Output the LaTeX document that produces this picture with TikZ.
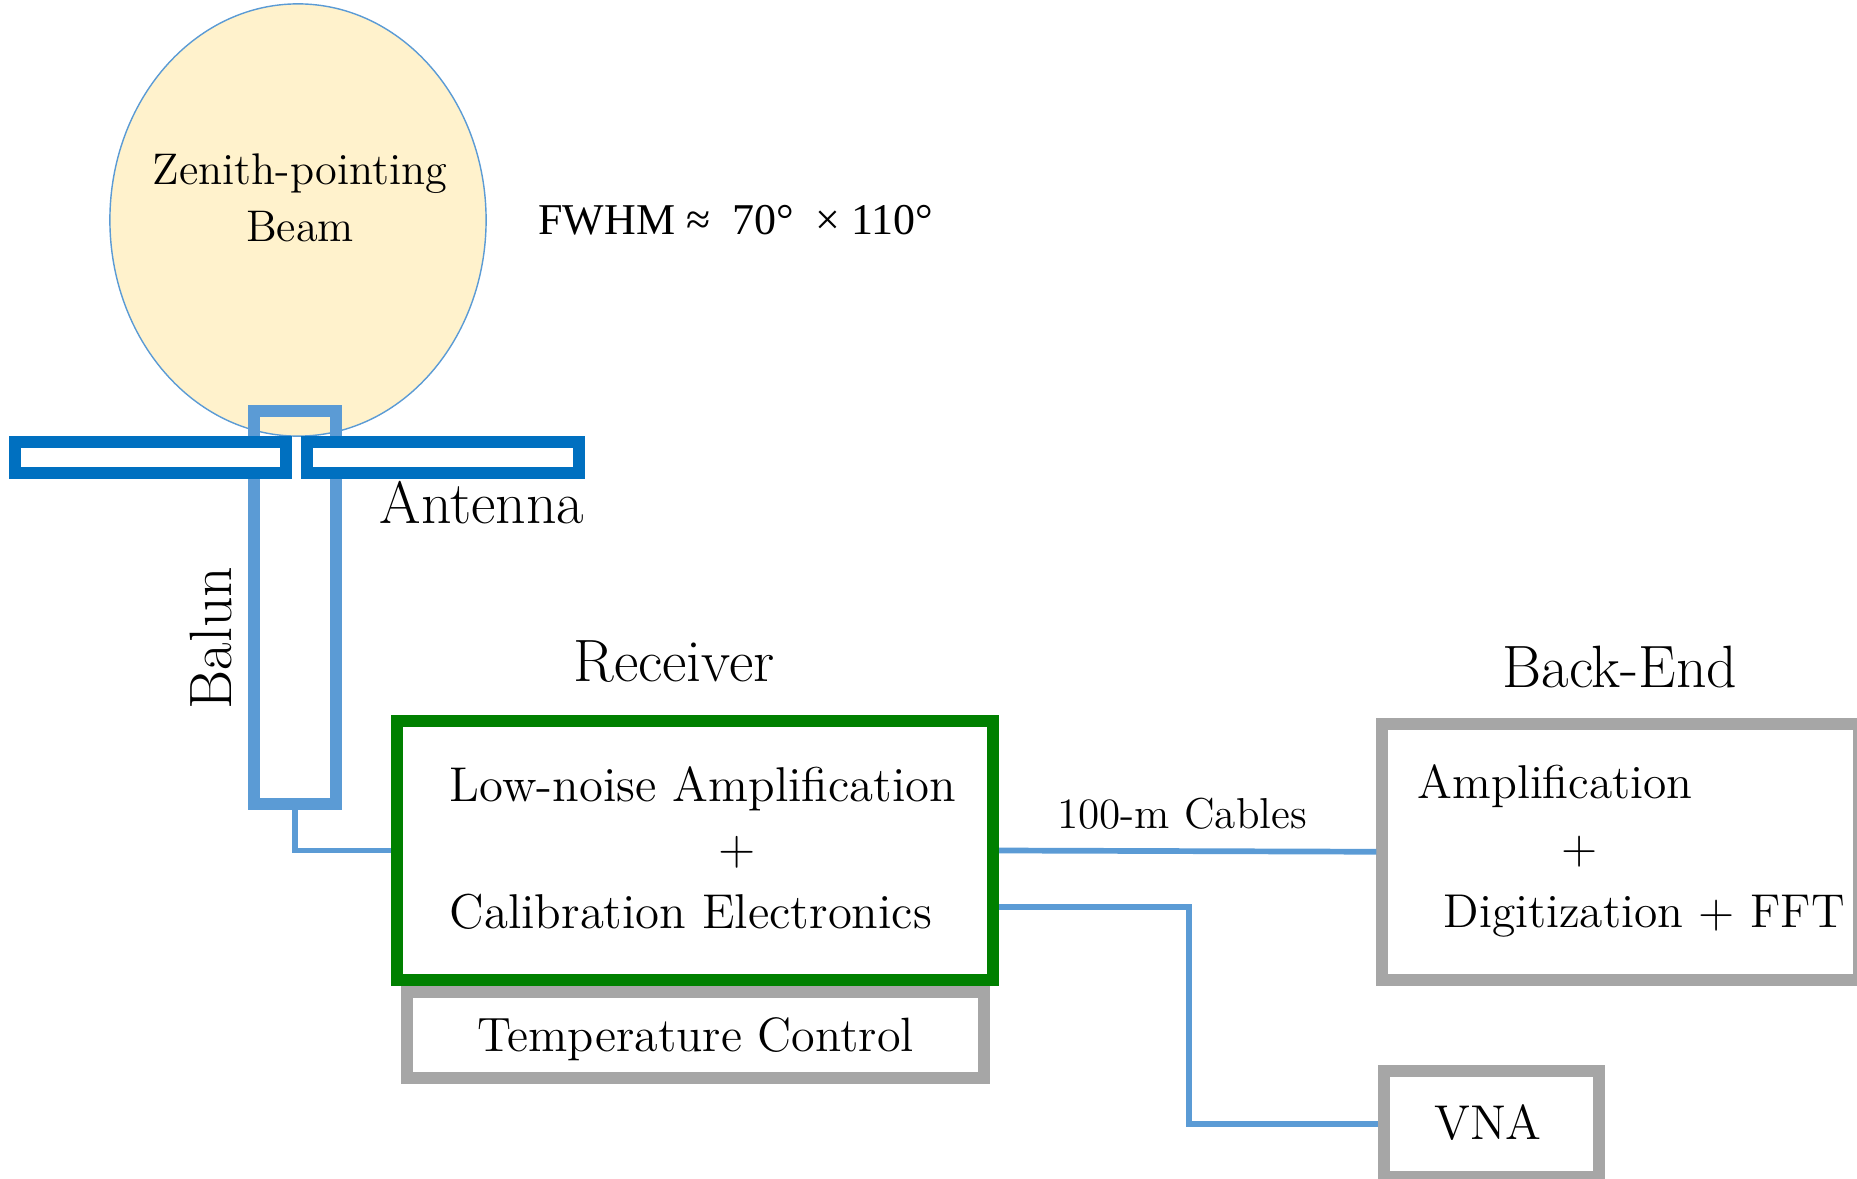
\documentclass[tikz,border=0pt]{standalone}
\usepackage{fontspec}
\newfontfamily\fwhmfont{Liberation Serif}
\usepackage{tikz}
\usetikzlibrary{positioning,shapes.geometric}
\definecolor{dipoleblue}{HTML}{0070C0}
\definecolor{balunblue}{HTML}{5B9BD5}
\definecolor{rxgreen}{HTML}{008000}
\definecolor{boxgray}{HTML}{A6A6A6}
\definecolor{beamfill}{HTML}{FFF2CC}

\begin{document}
\begin{tikzpicture}[x=0.01cm,y=-0.01cm,
  every node/.style={inner sep=0pt},
  arm/.style={draw=dipoleblue,fill=white,line width=0.12cm,minimum width=2.71cm,minimum height=0.31cm},
  graybox/.style={draw=boxgray,line width=0.12cm},
  cable/.style={draw=balunblue,line width=0.057cm},
  head/.style={font=\fontsize{17}{20}\selectfont},
  boxtxt/.style={font=\fontsize{13.9}{18.1}\selectfont,align=left}
]
  \useasboundingbox (0,0) rectangle (1857,1179);
  \clip (0,0) rectangle (1857,1179);

  % antenna and beam
  \node[ellipse,draw=balunblue,fill=beamfill,line width=0.4pt,minimum width=3.76cm,minimum height=4.32cm] (beam) at (298,220) {};
  \node[font=\fontsize{12.6}{16.2}\selectfont,align=center] (beamtxt) at (300,198) {Zenith-pointing\\Beam};
  \node[font=\fwhmfont\fontsize{12.5}{15}\selectfont] (fwhm) at (736,220) {FWHM ≈\ \ 70°\ \ × 110°};
  \node[draw=balunblue,line width=0.12cm,minimum width=0.815cm,minimum height=3.93cm] (balun) at (294.75,607.5) {};
  \node[arm] (armL) at (150.5,457.5) {};
  \node[arm] (armR) at (443,457.5) {};
  \node[head,rotate=90] (baluntxt) at (211,638) {Balun};
  \node[head] (anttxt) at (482,503) {Antenna};

  % receiver
  \node[draw=rxgreen,line width=0.12cm,minimum width=5.96cm,minimum height=2.59cm] (rx) at (695,850.5) {};
  \node[boxtxt,anchor=west] (rxtxt) at (449,848) {Low-noise Amplification\\\hspace*{76.3pt}+\\Calibration Electronics};
  \node[head] (rxhead) at (674,662) {Receiver};
  \node[graybox,minimum width=5.76cm,minimum height=0.86cm,text depth=0pt,font=\fontsize{13.7}{16}\selectfont] (tc) at (695.5,1035) {Temperature Control};

  % back-end
  \node[graybox,minimum width=4.765cm,minimum height=2.555cm] (be) at (1620.75,851.75) {};
  \node[boxtxt,font=\fontsize{13.5}{18.3}\selectfont,anchor=west] (betxt) at (1417,851) {Amplification\\\hspace*{40.9pt}+\\\hspace*{7.4pt}Digitization + FFT};
  \node[head] (behead) at (1620,667) {Back-End};
  \node[graybox,minimum width=2.15cm,minimum height=1.06cm] (vna) at (1491.5,1124) {};
  \node[font=\fontsize{13.9}{16}\selectfont] (vnatxt) at (1488,1123) {VNA};

  % cables
  \node[font=\fontsize{12.3}{14}\selectfont] (cabtxt) at (1182,814) {100-m Cables};
  \draw[cable] (balun.south) |- (rx.west);
  \draw[cable] (rx.east) -- (be.west);
  \coordinate (vtap) at ([yshift=-5.65mm]rx.east);
  \coordinate (vbend) at (1189,1124);
  \draw[cable] (vtap) -| (vbend) -- (vna.west);
\end{tikzpicture}
\end{document}
